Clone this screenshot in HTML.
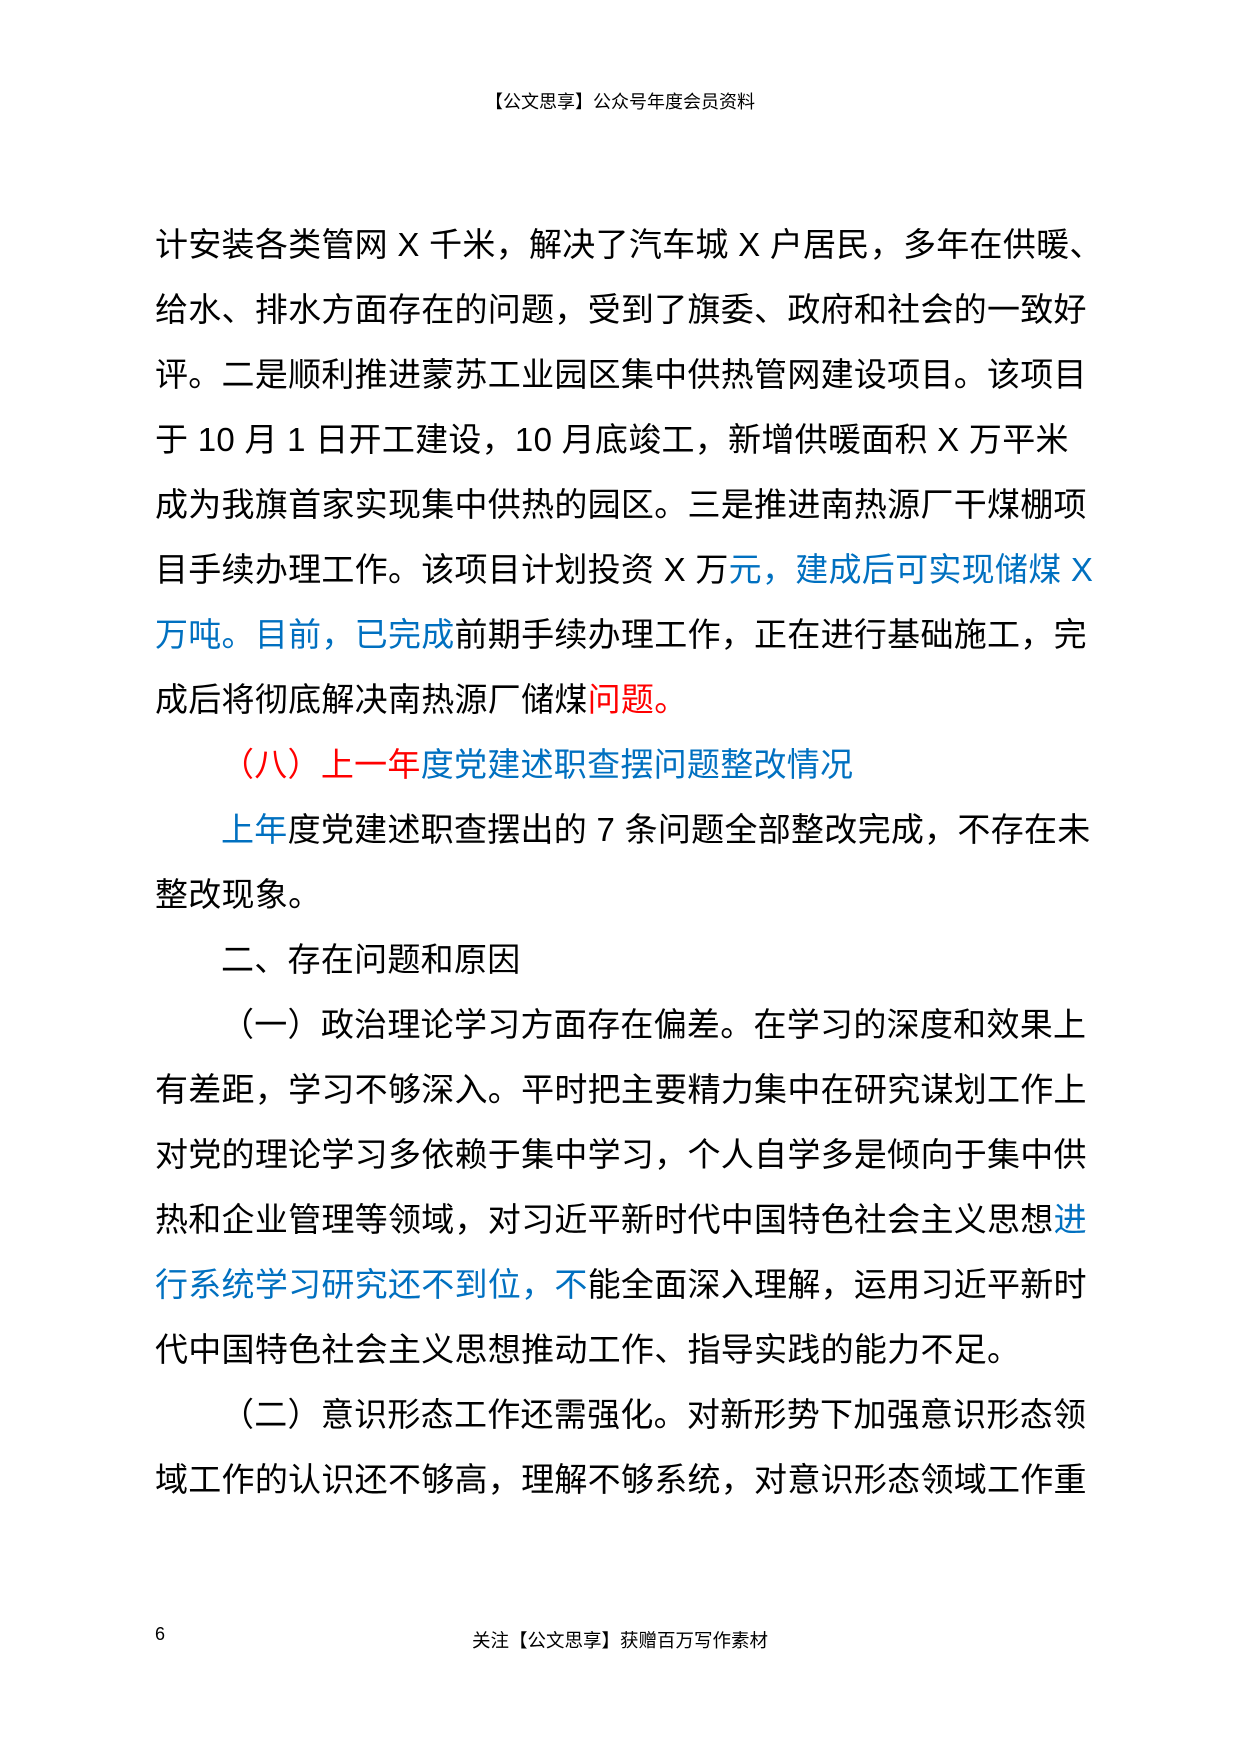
<!DOCTYPE html>
<html><head><meta charset="utf-8"><style>
body{margin:0;width:1240px;height:1754px;background:#fff;position:relative;font-family:"Liberation Sans","Noto Sans CJK SC",sans-serif;color:#000}
.h{position:absolute;top:88px;left:0;width:1240px;text-align:center;font-size:18px}
.b{position:absolute;top:212px;left:155px;width:1050px;font-size:33px;line-height:65px;white-space:nowrap;letter-spacing:0.28px}
.b div{height:65px}
.i{padding-left:66px}
.bl{color:#0070c0}.r{color:#ff0000}
.f{position:absolute;top:1627px;left:0;width:1240px;text-align:center;font-size:18.5px}
.n{position:absolute;top:1624px;left:155px;font-size:18px}
</style></head><body>
<div class="h">【公文思享】公众号年度会员资料</div>
<div class="b">
<div>计安装各类管网 X 千米，解决了汽车城 X 户居民，多年在供暖、</div>
<div>给水、排水方面存在的问题，受到了旗委、政府和社会的一致好</div>
<div>评。二是顺利推进蒙苏工业园区集中供热管网建设项目。该项目</div>
<div>于 10 月 1 日开工建设，10 月底竣工，新增供暖面积 X 万平米</div>
<div>成为我旗首家实现集中供热的园区。三是推进南热源厂干煤棚项</div>
<div>目手续办理工作。该项目计划投资 X 万<span class="bl">元，建成后可实现储煤 X</span></div>
<div><span class="bl">万吨。目前，已完成</span>前期手续办理工作，正在进行基础施工，完</div>
<div>成后将彻底解决南热源厂储煤<span class="r">问题。</span></div>
<div class="i"><span class="r">（八）上一年</span><span class="bl">度党建述职查摆问题整改情况</span></div>
<div class="i"><span class="bl">上年</span>度党建述职查摆出的 7 条问题全部整改完成，不存在未</div>
<div>整改现象。</div>
<div class="i">二、存在问题和原因</div>
<div class="i">（一）政治理论学习方面存在偏差。在学习的深度和效果上</div>
<div>有差距，学习不够深入。平时把主要精力集中在研究谋划工作上</div>
<div>对党的理论学习多依赖于集中学习，个人自学多是倾向于集中供</div>
<div>热和企业管理等领域，对习近平新时代中国特色社会主义思想<span class="bl">进</span></div>
<div><span class="bl">行系统学习研究还不到位，不</span>能全面深入理解，运用习近平新时</div>
<div>代中国特色社会主义思想推动工作、指导实践的能力不足。</div>
<div class="i">（二）意识形态工作还需强化。对新形势下加强意识形态领</div>
<div>域工作的认识还不够高，理解不够系统，对意识形态领域工作重</div>
</div>
<div class="n">6</div>
<div class="f">关注【公文思享】获赠百万写作素材</div>
</body></html>
